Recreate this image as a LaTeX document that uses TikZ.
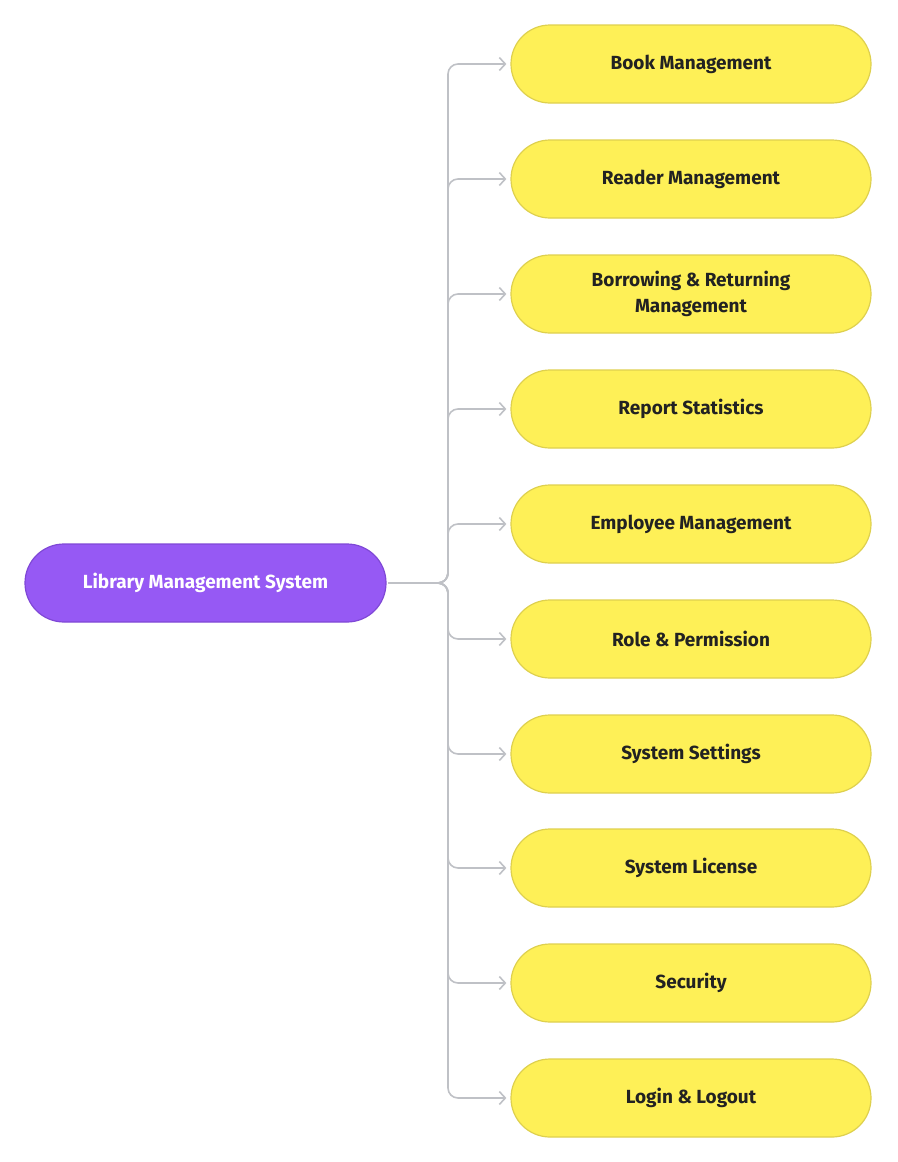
\documentclass[tikz,border=0pt]{standalone}
\usepackage{fontspec}
\setmainfont{Fira Sans}
\usetikzlibrary{arrows.meta}
\definecolor{rootfill}{HTML}{9659F4}
\definecolor{rootline}{HTML}{7F48D6}
\definecolor{leaffill}{HTML}{FEF057}
\definecolor{leafline}{HTML}{DED04E}
\definecolor{linkgray}{HTML}{BFC1C6}
\definecolor{leaftext}{HTML}{222222}
\tikzset{
  rootbox/.style={draw=rootline, line width=1.2pt, fill=rootfill, rounded corners=39pt,
    minimum width=361pt, minimum height=78pt, text=white, font=\fontsize{19}{26}\selectfont\bfseries},
  leafbox/.style={draw=leafline, line width=1.2pt, fill=leaffill, rounded corners=39pt,
    minimum width=360pt, minimum height=78pt, text=leaftext, align=center,
    font=\fontsize{19}{26}\selectfont\bfseries},
  link/.style={draw=linkgray, line width=1.6pt, rounded corners=10pt,
    -{Straight Barb[length=6pt,width=13pt,line width=1.6pt]}, shorten >=4pt}
}
\begin{document}
\begin{tikzpicture}[x=1pt, y=-1pt]
  \useasboundingbox (0,0) rectangle (897,1162);
  % root
  \node[rootbox] (root) at (205.5,583) {Library Management System};
  % modules
  \foreach \n/\y/\txt in {1/64/Book Management, 2/179/Reader Management,
      3/294/{Borrowing \& Returning\\Management}, 4/409/Report Statistics,
      5/524/Employee Management, 6/639/Role \& Permission,
      7/754/System Settings, 8/868/System License,
      9/983/Security, 10/1098/Login \& Logout}{
    \node[leafbox] (m\n) at (691,\y) {\txt};
    \draw[link] ([xshift=2pt]root.east) -- (448,583) |- (m\n.west);
  }
\end{tikzpicture}
\end{document}
